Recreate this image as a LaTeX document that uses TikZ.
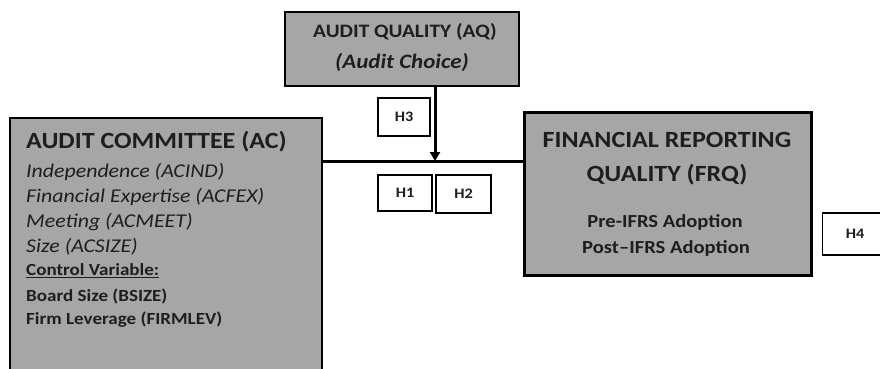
\documentclass[tikz,border=0pt]{standalone}
\usepackage{fontspec}
\setmainfont{Carlito}
\usetikzlibrary{arrows.meta}
\definecolor{boxgray}{HTML}{A6A6A6}
\definecolor{txt}{HTML}{1E1E1E}
\tikzset{
  graybox/.style={draw=black, fill=boxgray, line width=1.6pt},
  hbox/.style={draw=black, fill=white, line width=1.2pt},
  hlbl/.style={text=txt, inner sep=0pt, xscale=1.12, font=\fontsize{14.5}{16}\selectfont\bfseries},
  conn/.style={line width=3pt, draw=black},
  lbl/.style={text=txt, inner sep=0pt, xscale=1.12},
}
\begin{document}
\begin{tikzpicture}[x=1pt,y=-1pt]
\useasboundingbox (0,0) rectangle (880,368);
\clip (0,0) rectangle (880,368);
% boxes
\draw[graybox] (285,12) rectangle (519,86);
\coordinate (aqb) at (435,86);
\draw[graybox] (10,118) rectangle (322,380);
\coordinate (acr) at (322,161);
\draw[graybox, line width=3pt] (524,112) rectangle (811,275);
\coordinate (frql) at (524,161);
% AQ text
\node[lbl, font=\fontsize{19}{21}\selectfont\bfseries] (aq1) at (405,32) {AUDIT QUALITY (AQ)};
\node[lbl, font=\fontsize{20.5}{22}\selectfont\bfseries\itshape] (aq2) at (402,62) {(Audit Choice)};
% AC text
\node[lbl, anchor=west, font=\fontsize{23.2}{25}\selectfont\bfseries] (ac0) at (26,142) {AUDIT COMMITTEE (AC)};
\node[lbl, anchor=west, font=\fontsize{19.5}{21}\selectfont\itshape] (ac1) at (26,172) {Independence (ACIND)};
\node[lbl, anchor=west, font=\fontsize{19.5}{21}\selectfont\itshape] (ac2) at (26,197) {Financial Expertise (ACFEX)};
\node[lbl, anchor=west, font=\fontsize{19.5}{21}\selectfont\itshape] (ac3) at (26,222) {Meeting (ACMEET)};
\node[lbl, anchor=west, font=\fontsize{19.5}{21}\selectfont\itshape] (ac4) at (26,247) {Size (ACSIZE)};
\node[lbl, anchor=west, font=\fontsize{17}{19}\selectfont\bfseries] (ac5) at (26,271) {\underline{Control Variable:}};
\node[lbl, anchor=west, font=\fontsize{17}{19}\selectfont\bfseries] (ac6) at (26,296) {Board Size (BSIZE)};
\node[lbl, anchor=west, font=\fontsize{17}{19}\selectfont\bfseries] (ac7) at (26,320) {Firm Leverage (FIRMLEV)};
% FRQ text
\node[lbl, font=\fontsize{23.2}{25}\selectfont\bfseries] (f1) at (667,140) {FINANCIAL REPORTING};
\node[lbl, font=\fontsize{23.2}{25}\selectfont\bfseries] (f2) at (667,175) {QUALITY (FRQ)};
\node[lbl, font=\fontsize{18.4}{20}\selectfont\bfseries] (f3) at (665,222) {Pre-IFRS Adoption};
\node[lbl, font=\fontsize{18.4}{20}\selectfont\bfseries] (f4) at (666,248) {Post–IFRS Adoption};
% H boxes
\node[hbox, minimum width=52pt, minimum height=38pt] (h3box) at (404,117) {};
\node[hlbl] (h3) at (h3box.center) {H3};
\node[hbox, minimum width=54pt, minimum height=36pt] (h1box) at (405,193) {};
\node[hlbl] (h1) at (h1box.center) {H1};
\node[hbox, minimum width=55pt, minimum height=38pt] (h2box) at (463.5,194) {};
\node[hlbl] (h2) at (h2box.center) {H2};
\node[hbox, minimum width=80pt, minimum height=42pt, anchor=west] (h4box) at (822,234) {};
\node[hlbl] (h4) at (855,234) {H4};
% connectors
\draw[conn] (acr) -- (frql);
\coordinate (junc) at (435,161);
\draw[conn, -{Triangle[length=9pt,width=10pt]}] (aqb) -- (junc);
\end{tikzpicture}
\end{document}
